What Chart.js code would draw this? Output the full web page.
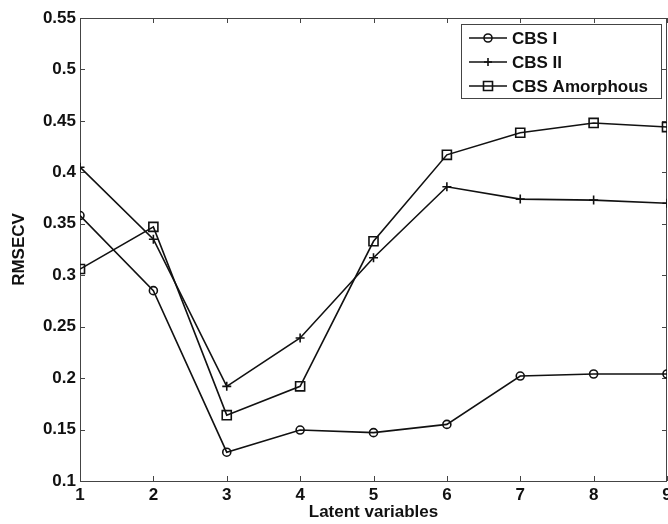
<!DOCTYPE html>
<html>
<head>
<meta charset="utf-8">
<script src="https://cdn.jsdelivr.net/npm/chart.js@4.4.0/dist/chart.umd.min.js"></script>
<style>
  html, body { margin: 0; padding: 0; background: #fff; overflow: hidden; }
  #wrap { width: 668px; height: 524px; overflow: hidden; }
</style>
</head>
<body>
<div id="wrap"><canvas id="rmsecvChart" width="675" height="524"></canvas></div>
<script>
// number of latent variables in the PLS model
const latentVars = [1, 2, 3, 4, 5, 6, 7, 8, 9];

// RMSECV per polymorph
const cbsI = [0.358, 0.285, 0.128, 0.1495, 0.147, 0.155, 0.202, 0.204, 0.204];
const cbsII = [0.405, 0.335, 0.192, 0.239, 0.317, 0.386, 0.374, 0.373, 0.370];
const cbsAmorphous = [0.306, 0.347, 0.164, 0.192, 0.333, 0.417, 0.4385, 0.448, 0.444];

const seriesNames = ["CBS I", "CBS II", "CBS Amorphous"];
const yTicks = [0.1, 0.15, 0.2, 0.25, 0.3, 0.35, 0.4, 0.45, 0.5, 0.55];

const FONT = "'Liberation Sans', Arial, sans-serif";

function toPoints(vals) {
  return vals.map((v, i) => ({ x: latentVars[i], y: v }));
}

function series(label, vals, style, radius) {
  return {
    label: label,
    data: toPoints(vals),
    borderColor: "#111",
    borderWidth: 1.6,
    pointStyle: style,
    pointRadius: radius,
    pointBorderColor: "#111",
    pointBorderWidth: 1.6,
    pointBackgroundColor: "rgba(0,0,0,0)",
    tension: 0,
    fill: false
  };
}

// small marker drawer for the legend samples
function marker(ctx, style, x, y) {
  ctx.beginPath();
  if (style === "circle") {
    ctx.arc(x, y, 4, 0, Math.PI * 2);
  } else if (style === "cross") {
    ctx.moveTo(x - 4, y); ctx.lineTo(x + 4, y);
    ctx.moveTo(x, y - 4); ctx.lineTo(x, y + 4);
  } else {
    ctx.rect(x - 4.5, y - 4.5, 9, 9);
  }
  ctx.stroke();
}

// box around the axes with inward tick marks on all four sides
const frame = {
  id: "frame",
  beforeDatasetsDraw(chart) {
    const { ctx, chartArea: a, scales } = chart;
    const len = 5;
    ctx.save();
    ctx.strokeStyle = "#444";
    ctx.lineWidth = 1;
    ctx.beginPath();
    scales.x.ticks.forEach(t => {
      const px = Math.round(scales.x.getPixelForValue(t.value)) + 0.5;
      ctx.moveTo(px, a.bottom); ctx.lineTo(px, a.bottom - len);
      ctx.moveTo(px, a.top); ctx.lineTo(px, a.top + len);
    });
    scales.y.ticks.forEach(t => {
      const py = Math.round(scales.y.getPixelForValue(t.value)) + 0.5;
      ctx.moveTo(a.left, py); ctx.lineTo(a.left + len, py);
      ctx.moveTo(a.right, py); ctx.lineTo(a.right - len, py);
    });
    ctx.stroke();
    ctx.strokeRect(Math.round(a.left) + 0.5, Math.round(a.top) + 0.5,
      Math.round(a.right - a.left) - 1, Math.round(a.bottom - a.top));
    ctx.restore();
  }
};

// legend box in the upper right corner, line + marker samples
const boxLegend = {
  id: "boxLegend",
  afterDraw(chart) {
    const ctx = chart.ctx;
    const x0 = 461, y0 = 24, w = 200, h = 74;
    ctx.save();
    ctx.fillStyle = "#fff";
    ctx.fillRect(x0, y0, w, h);
    ctx.strokeStyle = "#444";
    ctx.lineWidth = 1;
    ctx.strokeRect(x0 + 0.5, y0 + 0.5, w, h);
    ctx.font = "bold 17px " + FONT;
    ctx.textBaseline = "middle";
    chart.data.datasets.forEach((ds, i) => {
      const y = y0 + 14 + i * 24;
      ctx.strokeStyle = "#111";
      ctx.lineWidth = 1.6;
      ctx.beginPath();
      ctx.moveTo(469, y); ctx.lineTo(507, y);
      ctx.stroke();
      marker(ctx, ds.pointStyle, 488, y);
      ctx.fillStyle = "#111";
      ctx.fillText(ds.label, 512, y + 1);
    });
    ctx.restore();
  }
};

new Chart(document.getElementById("rmsecvChart"), {
  type: "line",
  data: {
    datasets: [
      series(seriesNames[0], cbsI, "circle", 4),
      series(seriesNames[1], cbsII, "cross", 4.5),
      series(seriesNames[2], cbsAmorphous, "rect", 6.4)
    ]
  },
  options: {
    responsive: false,
    animation: false,
    layout: { padding: { top: 18, right: 1, left: 0, bottom: 0 } },
    plugins: { legend: { display: false }, tooltip: { enabled: false } },
    scales: {
      x: {
        type: "linear",
        min: 1,
        max: 9,
        grid: { display: false, drawTicks: false },
        border: { display: false },
        ticks: {
          stepSize: 1,
          padding: 4,
          color: "#111",
          font: { family: FONT, size: 17, weight: "bold" }
        },
        title: {
          display: true,
          text: "Latent variables",
          color: "#111",
          padding: { top: 0, bottom: 1 },
          font: { family: FONT, size: 17, weight: "bold" }
        },
        afterFit(scale) {
          scale.height = 43;
          scale.paddingRight = 0;
        }
      },
      y: {
        min: 0.1,
        max: 0.55,
        grid: { display: false, drawTicks: false },
        border: { display: false },
        afterBuildTicks(scale) {
          scale.ticks = yTicks.map(v => ({ value: v }));
        },
        ticks: {
          padding: 4,
          color: "#111",
          font: { family: FONT, size: 17, weight: "bold" },
          callback: v => String(+v.toFixed(2))
        },
        title: {
          display: true,
          text: "RMSECV",
          color: "#111",
          padding: { top: 9, bottom: 0 },
          font: { family: FONT, size: 17, weight: "bold" }
        },
        afterFit(scale) {
          scale.width = 80;
          scale.paddingTop = 0;
          scale.paddingBottom = 0;
        }
      }
    }
  },
  plugins: [frame, boxLegend]
});
</script>
</body>
</html>
